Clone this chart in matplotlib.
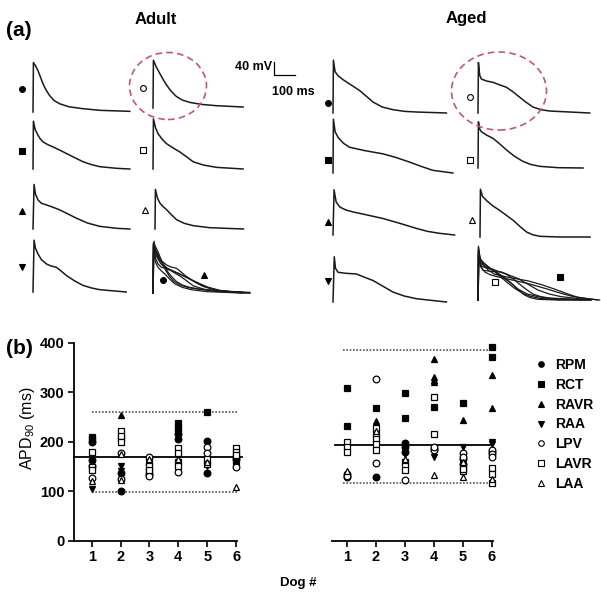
import matplotlib
matplotlib.use("Agg")
import matplotlib.pyplot as plt
from matplotlib.patches import Ellipse
from matplotlib.lines import Line2D

plt.rcParams["font.family"] = ["Liberation Sans", "DejaVu Sans"]

W, H = 601, 594

# ---------------- (a) action potentials: time (ms), voltage (mV) ----------------
t_adult_rpm = [0, 2, 12, 24, 36, 48, 62, 79, 100, 127, 170, 238, 320, 461]
v_adult_rpm = [-80, 70, 60, 45, 25, 5, -13, -30, -45, -55, -64, -70, -75, -78]
t_adult_rct = [0, 2, 10, 24, 36, 48, 70, 95, 125, 159, 200, 238, 280, 318, 400, 461]
v_adult_rct = [-80, 65, 40, 22, 10, 2, -6, -13, -22, -33, -46, -58, -67, -73, -78, -80]
t_adult_ravr = [0, 5, 12, 24, 40, 64, 95, 127, 165, 206, 260, 318, 400, 461]
v_adult_ravr = [-80, 55, 25, 8, -2, -7, -14, -22, -34, -47, -62, -72, -78, -80]
t_adult_raa = [0, 5, 12, 24, 40, 64, 85, 111, 135, 159, 200, 238, 280, 318, 444]
v_adult_raa = [-80, 77, 52, 35, 18, 5, -1, -5, -17, -30, -47, -60, -68, -73, -80]
t_adult_lpv = [0, 2, 15, 32, 48, 64, 85, 111, 140, 175, 230, 302, 429]
v_adult_lpv = [-80, 65, 45, 25, 7, -10, -28, -45, -56, -63, -69, -73, -77]
t_adult_lavr = [0, 2, 12, 24, 44, 64, 95, 127, 160, 191, 240, 302, 429]
v_adult_lavr = [-80, 72, 45, 27, 10, -3, -16, -28, -43, -58, -68, -75, -80]
t_adult_laa = [0, 2, 12, 24, 40, 56, 80, 103, 140, 183, 260, 421]
v_adult_laa = [-80, 40, 13, -2, -13, -22, -38, -52, -63, -70, -76, -80]

t_aged_rpm = [0, 2, 10, 24, 50, 79, 103, 127, 160, 191, 235, 286, 340, 397, 540]
v_aged_rpm = [-80, 80, 45, 33, 20, 8, -2, -12, -30, -47, -62, -70, -75, -77, -80]
t_aged_rct = [0, 2, 10, 24, 50, 79, 150, 238, 300, 365, 420, 476, 571]
v_aged_rct = [-80, 83, 45, 28, 10, -2, -12, -22, -33, -47, -60, -72, -80]
t_aged_ravr = [0, 5, 15, 32, 60, 95, 160, 238, 320, 397, 450, 508, 579]
v_aged_ravr = [-80, 57, 20, 5, -4, -10, -19, -30, -45, -60, -69, -75, -80]
t_aged_raa = [0, 6, 12, 24, 60, 111, 150, 191, 240, 286, 340, 397, 540]
v_aged_raa = [-80, 57, 22, 10, 7, 5, -5, -15, -33, -50, -62, -70, -80]
t_aged_lpv = [0, 2, 8, 16, 40, 71, 100, 135, 165, 198, 230, 262, 300, 341, 532]
v_aged_lpv = [-80, 73, 35, 23, 17, 13, 6, -2, -15, -32, -48, -62, -70, -74, -80]
t_aged_lavr = [0, 2, 8, 16, 40, 71, 100, 135, 175, 214, 250, 294, 380, 500]
v_aged_lavr = [-80, 60, 38, 30, 20, 10, -5, -25, -45, -60, -69, -75, -79, -80]
t_aged_laa = [0, 2, 12, 32, 60, 95, 125, 159, 190, 222, 250, 286, 380, 524]
v_aged_laa = [-80, 65, 43, 30, 15, 0, -14, -30, -48, -65, -73, -78, -80, -80]

# ---------------- (b) APD90 (ms) per dog ----------------
sites = ["RPM", "RCT", "RAVR", "RAA", "LPV", "LAVR", "LAA"]

adult_rpm_dog = [1, 1, 2, 2, 3, 4, 4, 5, 5, 6]
adult_rpm_apd = [200, 163, 100, 137, 135, 215, 205, 202, 137, 165]
adult_rct_dog = [1, 1, 2, 3, 4, 4, 4, 5, 6, 6]
adult_rct_apd = [210, 205, 208, 140, 237, 230, 222, 259, 169, 160]
adult_ravr_dog = [1, 2, 4, 5]
adult_ravr_apd = [165, 254, 225, 168]
adult_raa_dog = [1, 1, 2, 2, 3, 4, 5, 6]
adult_raa_apd = [105, 160, 150, 140, 130, 170, 150, 175]
adult_lpv_dog = [1, 1, 2, 2, 3, 3, 4, 5, 5, 6]
adult_lpv_apd = [127, 150, 177, 125, 170, 130, 139, 189, 177, 149]
adult_lavr_dog = [1, 1, 1, 2, 2, 2, 3, 3, 3, 4, 4, 4, 4, 5, 5, 6, 6, 6]
adult_lavr_apd = [179, 148, 143, 222, 212, 200, 160, 150, 143, 187, 177, 160, 150, 165, 155, 187, 180, 173]
adult_laa_dog = [1, 2, 2, 3, 4, 5, 6]
adult_laa_apd = [120, 122, 175, 165, 165, 160, 108]

aged_rpm_dog = [1, 2, 3, 3, 3, 4, 5, 5, 6]
aged_rpm_apd = [128, 129, 197, 190, 180, 185, 165, 155, 180]
aged_rct_dog = [1, 1, 2, 3, 3, 4, 5, 6, 6]
aged_rct_apd = [308, 232, 269, 298, 248, 270, 278, 391, 371]
aged_ravr_dog = [2, 4, 4, 4, 4, 5, 6, 6]
aged_ravr_apd = [242, 367, 330, 325, 320, 244, 335, 268]
aged_raa_dog = [2, 3, 3, 4, 4, 5, 6, 6]
aged_raa_apd = [200, 185, 175, 169, 178, 190, 200, 195]
aged_lpv_dog = [1, 1, 2, 2, 3, 4, 4, 5, 5, 6, 6, 6]
aged_lpv_apd = [135, 130, 326, 157, 122, 183, 190, 177, 170, 183, 175, 169]
aged_lavr_dog = [1, 1, 1, 2, 2, 2, 2, 2, 3, 3, 3, 4, 4, 5, 5, 5, 6, 6, 6]
aged_lavr_apd = [200, 190, 179, 227, 215, 205, 195, 183, 159, 150, 143, 290, 215, 150, 140, 145, 147, 135, 117]
aged_laa_dog = [1, 2, 3, 4, 5, 5, 6]
aged_laa_apd = [140, 222, 165, 133, 129, 160, 125]

adult_mean, adult_hi, adult_lo = 170, 259, 98
aged_mean, aged_hi, aged_lo = 194, 386, 116

dogs = [1, 2, 3, 4, 5, 6]

# marker style per site
site_style = {
    "RPM": ("o", "k"), "RCT": ("s", "k"), "RAVR": ("^", "k"), "RAA": ("v", "k"),
    "LPV": ("o", "w"), "LAVR": ("s", "w"), "LAA": ("^", "w"),
}

fig = plt.figure(figsize=(W / 100, H / 100), dpi=100)

PX_MS, PX_MV = 0.21, 0.33
T0, T1, V0, V1 = -60, 640, -100, 95


def trace_ax(x_up, y_base):
    left = x_up + T0 * PX_MS
    bottom = y_base + (-80 - V0) * PX_MV
    ax = fig.add_axes([left / W, 1 - bottom / H,
                       (T1 - T0) * PX_MS / W, (V1 - V0) * PX_MV / H])
    ax.set_xlim(T0, T1)
    ax.set_ylim(V0, V1)
    ax.axis("off")
    return ax


def site_marker(ax, site, t, v, ms=4.2):
    m, fc = site_style[site]
    ax.plot([t], [v], marker=m, ms=ms, mfc=fc, mec="k", mew=0.8,
            ls="none", clip_on=False)


adult_sets = [(t_adult_rpm, v_adult_rpm), (t_adult_rct, v_adult_rct),
              (t_adult_ravr, v_adult_ravr), (t_adult_raa, v_adult_raa),
              (t_adult_lpv, v_adult_lpv), (t_adult_lavr, v_adult_lavr),
              (t_adult_laa, v_adult_laa)]
aged_sets = [(t_aged_rpm, v_aged_rpm), (t_aged_rct, v_aged_rct),
             (t_aged_ravr, v_aged_ravr), (t_aged_raa, v_aged_raa),
             (t_aged_lpv, v_aged_lpv), (t_aged_lavr, v_aged_lavr),
             (t_aged_laa, v_aged_laa)]

# (upstroke x px, baseline y px, marker t, marker v) for each single trace
adult_pos = [(33, 112, -52, -10), (33, 169, -52, -25), (33, 229, -52, -25), (33, 292, -52, -5),
             (153, 108, -48, -20), (153, 169, -48, -22), (155, 229, -48, -22)]
aged_pos = [(333, 113, -24, -50), (333, 173, -24, -41), (333, 235, -24, -41), (333, 302, -24, -16),
            (478, 113, -38, -32), (478, 168, -38, -56), (480, 237, -38, -28)]

trace_kw = dict(color="#1a1a1a", lw=1.1)
for sets, pos in [(adult_sets, adult_pos), (aged_sets, aged_pos)]:
    for site, (t, v), (xu, yb, mt, mv) in zip(sites, sets, pos):
        ax = trace_ax(xu, yb)
        ax.plot(t, v, **trace_kw)
        site_marker(ax, site, mt, mv)
        if site == "LPV" and sets is adult_sets:
            # scale bar
            ax.plot([576, 576, 676], [60, 20, 20], color="k", lw=0.9, clip_on=False)
            ax.text(566, 44, "40 mV", ha="right", va="center", fontsize=9,
                    weight="bold", clip_on=False)
            ax.text(668, -32, "100 ms", ha="center", va="center", fontsize=9,
                    weight="bold", clip_on=False)

# overlays
ax = trace_ax(153, 293)
for t, v in adult_sets:
    ax.plot(t, v, color="#1a1a1a", lw=0.9)
site_marker(ax, "RPM", 48, -41)
site_marker(ax, "RAVR", 243, -25)

ax = trace_ax(478, 300)
for t, v in aged_sets:
    ax.plot(t, v, color="#1a1a1a", lw=0.9)
site_marker(ax, "LAVR", 81, -25)
site_marker(ax, "RCT", 390, -10)

# red dashed circles
for cx, cy, ew, eh in [(168, 86, 77, 67), (499, 91, 95, 78)]:
    fig.add_artist(Ellipse((cx / W, 1 - cy / H), ew / W, eh / H,
                           transform=fig.transFigure, fill=False,
                           ec="#c4566f", lw=1.2, ls=(0, (4, 2.5))))

fig.text(6 / W, 1 - 31 / H, "(a)", fontsize=15, weight="bold", va="center")
fig.text(156 / W, 1 - 19 / H, "Adult", fontsize=12, weight="bold", ha="center", va="center")
fig.text(466 / W, 1 - 19 / H, "Aged", fontsize=12, weight="bold", ha="center", va="center")

# ---------------- (b) scatter ----------------
ybot, ytop = 540.7, 342.7
axL = fig.add_axes([74 / W, 1 - ybot / H, (237 - 74) / W, (ybot - ytop) / H])
axR = fig.add_axes([332 / W, 1 - ybot / H, (493 - 332) / W, (ybot - ytop) / H])

adult_pts = [(adult_rpm_dog, adult_rpm_apd), (adult_rct_dog, adult_rct_apd),
             (adult_ravr_dog, adult_ravr_apd), (adult_raa_dog, adult_raa_apd),
             (adult_lpv_dog, adult_lpv_apd), (adult_lavr_dog, adult_lavr_apd),
             (adult_laa_dog, adult_laa_apd)]
aged_pts = [(aged_rpm_dog, aged_rpm_apd), (aged_rct_dog, aged_rct_apd),
            (aged_ravr_dog, aged_ravr_apd), (aged_raa_dog, aged_raa_apd),
            (aged_lpv_dog, aged_lpv_apd), (aged_lavr_dog, aged_lavr_apd),
            (aged_laa_dog, aged_laa_apd)]

for ax, pts, mean, hi, lo, xl, solid_x, dot_x in [
        (axL, adult_pts, adult_mean, adult_hi, adult_lo, (0.39, 6.03), (0, 1.03), (0.11, 1.0)),
        (axR, aged_pts, aged_mean, aged_hi, aged_lo, (0.49, 6.04), (0.02, 1.0), (0.07, 1.0))]:
    ax.set_xlim(*xl)
    ax.set_ylim(0, 400)
    ax.axhline(mean, xmin=solid_x[0], xmax=solid_x[1], color="k", lw=1.3, clip_on=False, zorder=1)
    for val in (hi, lo):
        ax.axhline(val, xmin=dot_x[0], xmax=dot_x[1], color="#555555", lw=1.2,
                   ls=(0, (1, 1)), zorder=1)
    for site, (d, a) in zip(sites, pts):
        m, fc = site_style[site]
        ax.plot(d, a, marker=m, ms=4.8, mfc=fc, mec="k", mew=0.9, ls="none",
                zorder=3 if fc == "k" else 4, clip_on=False)
    ax.set_xticks(dogs)
    ax.tick_params(direction="out", length=4, width=1.2, labelsize=10.5, pad=3)
    for s in ("top", "right"):
        ax.spines[s].set_visible(False)
    for s in ("left", "bottom"):
        ax.spines[s].set_linewidth(1.3)
    ax.patch.set_alpha(0)

axL.set_yticks([0, 100, 200, 300, 400])
for ax in (axL, axR):
    for lab in ax.get_xticklabels() + ax.get_yticklabels():
        lab.set_fontweight("bold")
axL.set_ylabel(r"APD$_{\mathregular{90}}$ (ms)", fontsize=11.5)
axL.yaxis.set_label_coords(-0.225, 0.57)
axR.spines["left"].set_visible(False)
axR.set_yticks([])

fig.text(6 / W, 1 - 348 / H, "(b)", fontsize=15, weight="bold", va="center")
fig.text(298 / W, 1 - 583 / H, "Dog #", fontsize=9.5, weight="bold", ha="center", va="center")

handles = []
for site in sites:
    m, fc = site_style[site]
    handles.append(Line2D([], [], marker=m, ms=4, mfc=fc, mec="k", mew=0.8,
                          ls="none", label=site))
fig.legend(handles=handles, loc="upper left", bbox_to_anchor=(534 / W, 1 - 358 / H),
           frameon=False, prop={"weight": "bold", "size": 10}, labelspacing=0.42,
           handlelength=1.0, handletextpad=0.5, borderpad=0, borderaxespad=0)

fig.savefig("out.png", dpi=100)
